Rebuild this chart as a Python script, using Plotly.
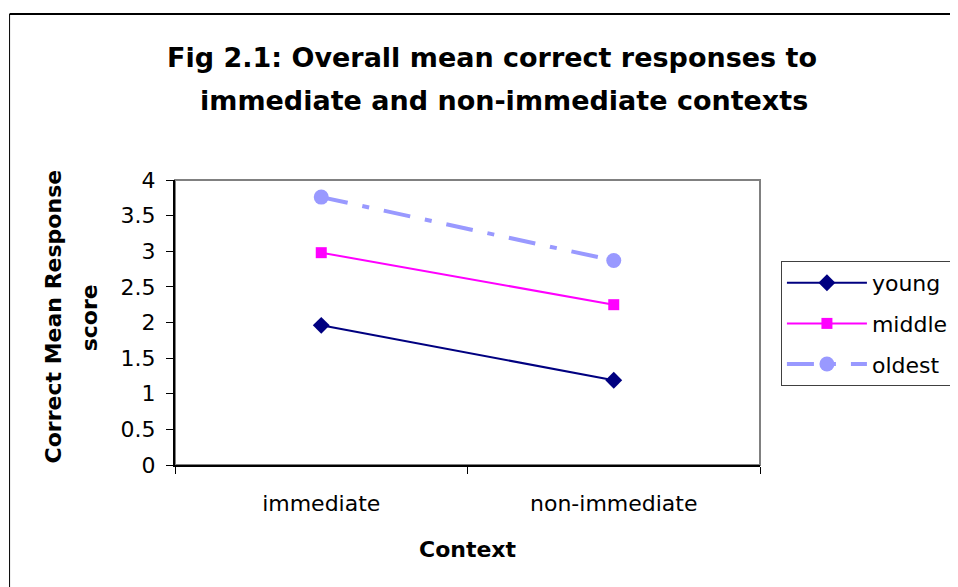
import plotly.graph_objects as go

categories = ["immediate", "non-immediate"]
young = [1.96, 1.19]
middle = [2.98, 2.25]
oldest = [3.76, 2.87]
y_ticks = [0, 0.5, 1, 1.5, 2, 2.5, 3, 3.5, 4]
y_tick_labels = ["0", "0.5", "1", "1.5", "2", "2.5", "3", "3.5", "4"]

W, H = 958, 587
OFF = 8  # page body margin
L, R, T, B = 175 - OFF, 762 - OFF, 180 - OFF, 465 - OFF
pw, ph = R - L, B - T


def px(x):
    return (x - OFF - L) / pw


def py(y):
    return (B - (y - OFF)) / ph


FONT = "DejaVu Sans, Liberation Sans, Arial, sans-serif"

fig = go.Figure()
fig.add_trace(go.Scatter(
    x=categories, y=young, name="young", mode="lines+markers",
    line=dict(color="#000080", width=2),
    marker=dict(symbol="diamond", size=13, color="#000080"),
    legendgroup="a",
))
fig.add_trace(go.Scatter(
    x=categories, y=middle, name="middle", mode="lines+markers",
    line=dict(color="#FF00FF", width=2),
    marker=dict(symbol="square", size=11, color="#FF00FF"),
    legendgroup="b",
))
fig.add_trace(go.Scatter(
    x=categories, y=oldest, name="oldest", mode="lines+markers",
    line=dict(color="#9999FF", width=4, dash="27px,15px,7px,15px"),
    marker=dict(symbol="circle", size=15, color="#9999FF"),
    legendgroup="c",
))

shapes = [
    dict(type="rect", xref="paper", yref="paper", x0=0, x1=1, y0=0, y1=1,
         line=dict(color="#808080", width=2), layer="below"),
    dict(type="line", xref="paper", yref="paper", x0=px(9), x1=px(990),
         y0=py(14), y1=py(14), line=dict(color="#000000", width=2)),
    dict(type="line", xref="paper", yref="paper", x0=px(9), x1=px(9),
         y0=py(14), y1=py(620), line=dict(color="#000000", width=1)),
]


def ann(text, x, y, size, angle=0):
    return dict(text=text, xref="paper", yref="paper", x=px(x), y=py(y),
                xanchor="center", yanchor="middle", showarrow=False,
                textangle=angle, font=dict(family=FONT, size=size, color="#000000"))


annotations = [
    ann("<b>Fig 2.1: Overall mean correct responses to</b>", 493, 57, 27),
    ann("<b>immediate and non-immediate contexts</b>", 505, 100, 27),
    ann("<b>Context</b>", 469, 549, 22),
    ann("<b>Correct Mean Response</b>", 53, 316, 22, -90),
    ann("<b>score</b>", 89, 318, 22, -90),
]

fig.update_layout(
    width=W, height=H,
    margin=dict(l=L, r=W - R, t=T, b=H - B, pad=0),
    paper_bgcolor="white", plot_bgcolor="white",
    font=dict(family=FONT, size=22, color="#000000"),
    showlegend=True,
    legend=dict(
        x=px(783), y=py(261), xanchor="left", yanchor="top",
        bordercolor="#404040", borderwidth=1, bgcolor="white",
        font=dict(family=FONT, size=22, color="#000000"),
        tracegroupgap=9, traceorder="grouped", itemwidth=80,
    ),
    shapes=shapes,
    annotations=annotations,
)

fig.update_xaxes(
    type="category", range=[-0.5, 1.5], tickson="boundaries", ticks="outside", ticklen=7,
    tickcolor="#000000", showline=True, linecolor="#000000", linewidth=2,
    showgrid=False, zeroline=False, ticklabelstandoff=18,
    tickfont=dict(family=FONT, size=22, color="#000000"),
)
fig.update_yaxes(
    range=[0, 4], tickvals=y_ticks, ticktext=y_tick_labels,
    ticks="outside", ticklen=7, tickcolor="#000000",
    showline=True, linecolor="#000000", linewidth=2,
    showgrid=False, zeroline=False, ticklabelstandoff=6,
    tickfont=dict(family=FONT, size=22, color="#000000"),
)

fig.write_html("out.html")
